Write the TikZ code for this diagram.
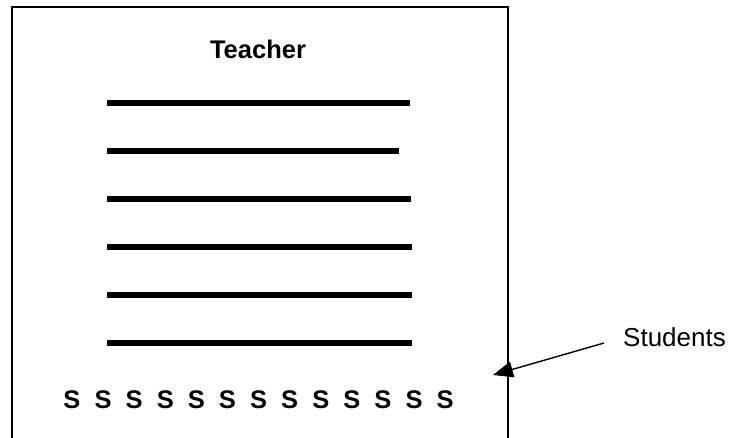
\documentclass[tikz,border=0pt]{standalone}
\usepackage{fontspec}
\setmainfont{Liberation Sans}
\usetikzlibrary{arrows.meta}
\begin{document}
\begin{tikzpicture}[x=1pt,y=-1pt,
  rowline/.style={line width=5.5pt},
  framebox/.style={line width=1.8pt},
  pointer/.style={line width=1.4pt,-{Triangle[length=20pt,width=16pt]}},
  bigbold/.style={font=\fontsize{25.5}{30}\selectfont\bfseries,inner sep=0pt,anchor=base},
  label/.style={font=\fontsize{26}{30}\selectfont,inner sep=0pt,anchor=base west}]
\useasboundingbox (0,0) rectangle (734,437);
\clip (0,0) rectangle (734,437);
\fill[white] (0,0) rectangle (734,437);
% frame (open at the bottom edge of the picture)
\draw[framebox] (12,445) -- (12,7) -- (508,7) -- (508,445);
% teacher
\node[bigbold] (teacher) at (258,58) {Teacher};
% rows of desks
\draw[rowline] (107,103) -- (410,103);
\draw[rowline] (107,151) -- (399,151);
\draw[rowline] (107,199) -- (411,199);
\draw[rowline] (107,247) -- (412,247);
\draw[rowline] (107,295) -- (412,295);
\draw[rowline] (107,343) -- (412,343);
% students
\foreach \i in {0,...,12}{
  \node[bigbold] (s\i) at ({72+31.1*\i},408) {S};
}
\node[label] (students) at (623,346) {Students};
\coordinate (arrstart) at (604,343);
\coordinate (arrtip) at (493,375);
\draw[pointer] (arrstart) -- (arrtip);
\end{tikzpicture}
\end{document}
